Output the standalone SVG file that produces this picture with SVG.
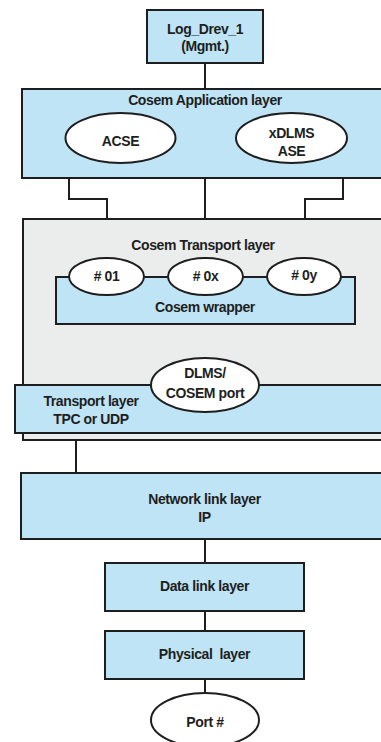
<svg xmlns="http://www.w3.org/2000/svg" width="381" height="742" viewBox="0 0 381 742">
<style>
.b{fill:#bee4f5;stroke:#1e1e1e;stroke-width:2}
.g{fill:#ebecec;stroke:#1e1e1e;stroke-width:2}
.e{fill:#ffffff;stroke:#1e1e1e;stroke-width:2}
.c{fill:none;stroke:#1e1e1e;stroke-width:2}
text{font-family:"Liberation Sans",Arial,sans-serif;font-weight:bold;font-size:14px;letter-spacing:-0.4px;fill:#1e1e1e;text-anchor:middle}
</style>
<rect width="381" height="742" fill="#ffffff"/>
<g id="connectors">
<path class="c" d="M205,63V89"/>
<path class="c" d="M69,178V199H107V258"/>
<path class="c" d="M205,178V219"/>
<path class="c" d="M343,178V199H305V258"/>
<path class="c" d="M205,324V358"/>
<path class="c" d="M76,433V473"/>
<path class="c" d="M205,539V563"/>
<path class="c" d="M205,611V631"/>
<path class="c" d="M205,679V693"/>
</g>
<g id="log_drev">
<rect class="b" x="147" y="10" width="116" height="53"/>
<text x="205" y="34">Log_Drev_1</text>
<text x="205" y="51">(Mgmt.)</text>
</g>
<g id="app_layer">
<rect class="b" x="22" y="89" width="370" height="89"/>
<text x="205" y="105">Cosem Application layer</text>
</g>
<g id="acse">
<ellipse class="e" cx="120.5" cy="138" rx="55" ry="25"/>
<text x="120.5" y="146">ACSE</text>
</g>
<g id="xdlms">
<ellipse class="e" cx="291.5" cy="138" rx="55.5" ry="25"/>
<text x="291.5" y="138">xDLMS</text>
<text x="291.5" y="156">ASE</text>
</g>
<g id="transport_cosem">
<rect class="g" x="23" y="219" width="369" height="221"/>
<text x="203" y="250">Cosem Transport layer</text>
</g>
<g id="wrapper">
<rect class="b" x="56" y="277" width="299" height="47"/>
<text x="205" y="312">Cosem wrapper</text>
</g>
<g id="p01">
<ellipse class="e" cx="106.5" cy="276.5" rx="37.5" ry="18.5"/>
<text x="106.5" y="281">#&#160;01</text>
</g>
<g id="p0x">
<ellipse class="e" cx="205.5" cy="276.5" rx="37.5" ry="18.5"/>
<text x="205.5" y="281">#&#160;0x</text>
</g>
<g id="p0y">
<ellipse class="e" cx="304" cy="276.5" rx="37" ry="18.5"/>
<text x="304" y="280">#&#160;0y</text>
</g>
<g id="transport">
<rect class="b" x="15" y="385" width="377" height="48"/>
<text x="91" y="406">Transport layer</text>
<text x="91" y="424">TPC or UDP</text>
</g>
<g id="dlms_port">
<ellipse class="e" cx="205" cy="385" rx="54" ry="27"/>
<text x="205" y="378">DLMS/</text>
<text x="205" y="398">COSEM port</text>
</g>
<g id="network">
<rect class="b" x="21" y="473" width="371" height="66"/>
<text x="204.5" y="504">Network link layer</text>
<text x="204.5" y="522">IP</text>
</g>
<g id="datalink">
<rect class="b" x="105" y="563" width="199" height="48"/>
<text x="204.5" y="591">Data link layer</text>
</g>
<g id="physical">
<rect class="b" x="105" y="631" width="199" height="48"/>
<text x="204.5" y="659" xml:space="preserve">Physical  layer</text>
</g>
<g id="port">
<ellipse class="e" cx="205" cy="720" rx="54" ry="27"/>
<text x="205" y="727">Port #</text>
</g>
</svg>
